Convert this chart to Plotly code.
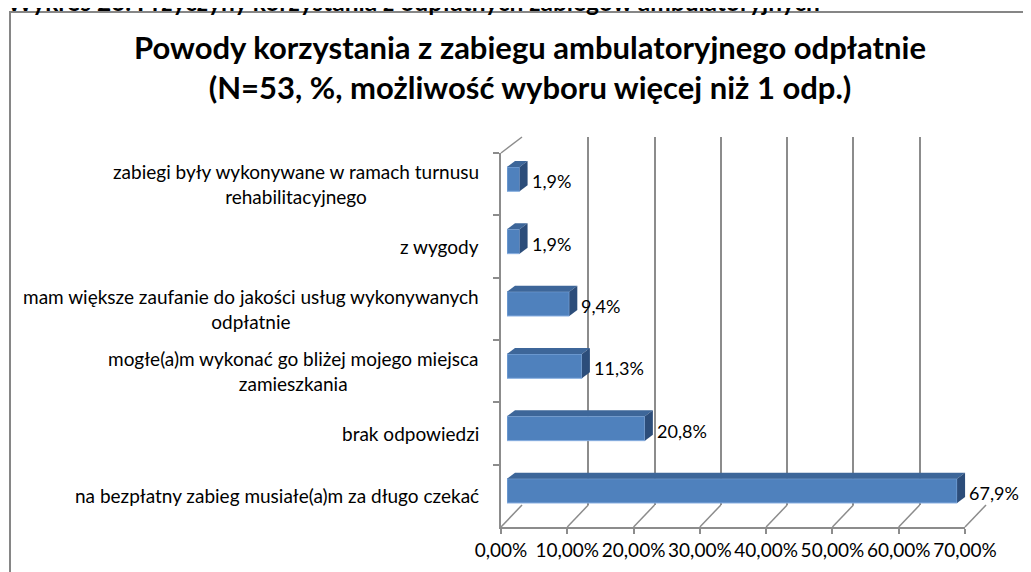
import plotly.graph_objects as go

# ---------------- data ----------------
categories = [
    "zabiegi były wykonywane w ramach turnusu<br>rehabilitacyjnego",
    "z wygody",
    "mam większe zaufanie do jakości usług wykonywanych<br>odpłatnie",
    "mogłe(a)m wykonać go bliżej mojego miejsca<br>zamieszkania",
    "brak odpowiedzi",
    "na bezpłatny zabieg musiałe(a)m za długo czekać",
]
values = [1.9, 1.9, 9.4, 11.3, 20.8, 67.9]
x_ticks = [0, 10, 20, 30, 40, 50, 60, 70]
x_ticktext = [f"{t:.2f}".replace(".", ",") + "%" for t in x_ticks]
bar_labels = [f"{v:.1f}".replace(".", ",") + "%" for v in values]

title_text = ("<b>Powody korzystania z zabiegu ambulatoryjnego odpłatnie<br>"
              "(N=53, %, możliwość wyboru więcej niż 1 odp.)</b>")
heading_text = "<b>Wykres 26. Przyczyny korzystania z odpłatnych zabiegów ambulatoryjnych</b>"

# ---------------- geometry (pixels in the 1031x572 window) ----------------
OFF = 8                      # default page body margin
W, H = 1031 - OFF, 572 - OFF  # figure size that fits the window
FONT = "Lato"
XMAX = 70

def fx(p):
    return (p - OFF) / W

def fy(p):
    return 1 - (p - OFF) / H

# back wall
BW_L, BW_R, BW_T, BW_B = 522, 986, 137, 505
# front axes
FR_L, FR_R, FR_T, FR_B = 501, 965, 153, 527
# bars plane
BA_L, BA_R, BA_T, BA_B = 507, 971, 148, 522

n = len(categories)
bar_w = 0.39
DX_PX, DY_PX = 8, 6
dx = DX_PX * XMAX / (BA_R - BA_L)
dy = DY_PX * n / (BA_B - BA_T)

front = "#4F81BD"
top_col = "#3D6699"
side_col = "#2C4D7A"
grid_col = "#8C8C8C"

fig = go.Figure()

fig.add_trace(go.Scatter(x=[0, XMAX], y=[0, 1], mode="markers",
                         marker=dict(opacity=0), hoverinfo="skip",
                         showlegend=False, xaxis="x", yaxis="y"))
fig.add_trace(go.Scatter(x=[0] * n, y=categories, mode="markers",
                         marker=dict(opacity=0), hoverinfo="skip",
                         showlegend=False, xaxis="x2", yaxis="y2"))
fig.add_trace(go.Bar(x=values, y=categories, orientation="h",
                     width=bar_w, xaxis="x3", yaxis="y3",
                     marker=dict(color=front, line=dict(color="#86AEE0", width=1)),
                     hoverinfo="skip", showlegend=False))

shapes = []
for i, v in enumerate(values):
    yt = i - bar_w / 2
    yb = i + bar_w / 2
    shapes.append(dict(type="path", xref="x3", yref="y3", layer="above",
                       path=f"M 0 {yt} L {v} {yt} L {v + dx} {yt - dy} L {dx} {yt - dy} Z",
                       fillcolor=top_col, line=dict(width=0)))
    shapes.append(dict(type="path", xref="x3", yref="y3", layer="above",
                       path=f"M {v} {yt} L {v + dx} {yt - dy} L {v + dx} {yb - dy} L {v} {yb} Z",
                       fillcolor=side_col, line=dict(width=0)))

for t in x_ticks:
    xf = FR_L + (FR_R - FR_L) * t / XMAX
    xb = BW_L + (BW_R - BW_L) * t / XMAX
    shapes.append(dict(type="line", xref="paper", yref="paper",
                       x0=fx(xf), y0=fy(FR_B), x1=fx(xb), y1=fy(BW_B),
                       line=dict(color=grid_col, width=1.5)))
shapes.append(dict(type="line", xref="paper", yref="paper",
                   x0=fx(FR_L), y0=fy(FR_T), x1=fx(BW_L), y1=fy(BW_T),
                   line=dict(color=grid_col, width=1.5)))
shapes.append(dict(type="rect", xref="paper", yref="paper",
                   x0=fx(10), y0=-0.1, x1=1.1, y1=fy(12),
                   line=dict(color="#868686", width=2), layer="below"))

annotations = []
for cat, lab, v in zip(categories, bar_labels, values):
    annotations.append(dict(xref="x3", yref="y3", x=v, y=cat, text=lab,
                            xanchor="left", yanchor="middle", showarrow=False,
                            xshift=DX_PX + 2, yshift=-2,
                            font=dict(family=FONT, size=18, color="#000000")))
    annotations.append(dict(xref="paper", yref="y2", x=fx(481), y=cat, text=cat,
                            xanchor="right", yanchor="middle", align="center",
                            showarrow=False,
                            font=dict(family=FONT, size=19, color="#000000")))
annotations.append(dict(xref="paper", yref="paper", x=fx(5), y=fy(18),
                        xanchor="left", yanchor="bottom", text=heading_text,
                        showarrow=False,
                        font=dict(family=FONT, size=24.5, color="#000000")))

fig.update_layout(
    width=W, height=H, autosize=False,
    margin=dict(l=0, r=0, t=0, b=0, pad=0, autoexpand=False),
    paper_bgcolor="white", plot_bgcolor="rgba(0,0,0,0)",
    showlegend=False,
    title=dict(text=title_text, x=fx(530), xanchor="center",
               y=fy(59), yanchor="middle", automargin=False,
               font=dict(family=FONT, size=31, color="#000000")),
    xaxis=dict(domain=[fx(BW_L), fx(BW_R)], range=[0, XMAX], anchor="y",
               showgrid=True, gridcolor=grid_col, gridwidth=1.5,
               tickvals=x_ticks, showticklabels=False, ticks="",
               zeroline=False, showline=False, fixedrange=True, automargin=False),
    yaxis=dict(domain=[fy(BW_B), fy(BW_T)], range=[0, 1], anchor="x",
               showgrid=False, showticklabels=False, zeroline=False,
               showline=False, fixedrange=True, automargin=False),
    xaxis2=dict(domain=[fx(FR_L), fx(FR_R)], range=[0, XMAX], anchor="y2",
                tickvals=x_ticks, ticktext=x_ticktext, ticks="outside",
                ticklen=5, tickcolor=grid_col, tickwidth=1.5,
                showline=True, linecolor=grid_col, linewidth=1.5,
                showgrid=False, zeroline=False,
                tickfont=dict(family=FONT, size=19, color="#000000"),
                fixedrange=True, automargin=False),
    yaxis2=dict(domain=[fy(FR_B), fy(FR_T)], type="category",
                categoryorder="array", categoryarray=categories,
                range=[n - 0.5, -0.5], anchor="x2",
                tickson="boundaries", ticks="outside", ticklen=6,
                tickcolor=grid_col, tickwidth=1.5,
                showline=True, linecolor=grid_col, linewidth=1.5,
                showgrid=False, showticklabels=False, zeroline=False,
                fixedrange=True, automargin=False),
    xaxis3=dict(domain=[fx(BA_L), fx(BA_R)], range=[0, XMAX], anchor="y3",
                visible=False, fixedrange=True, automargin=False),
    yaxis3=dict(domain=[fy(BA_B), fy(BA_T)], type="category",
                categoryorder="array", categoryarray=categories,
                range=[n - 0.5, -0.5], anchor="x3", visible=False,
                fixedrange=True, automargin=False),
    shapes=shapes,
    annotations=annotations,
)

fig.write_html("out.html")
